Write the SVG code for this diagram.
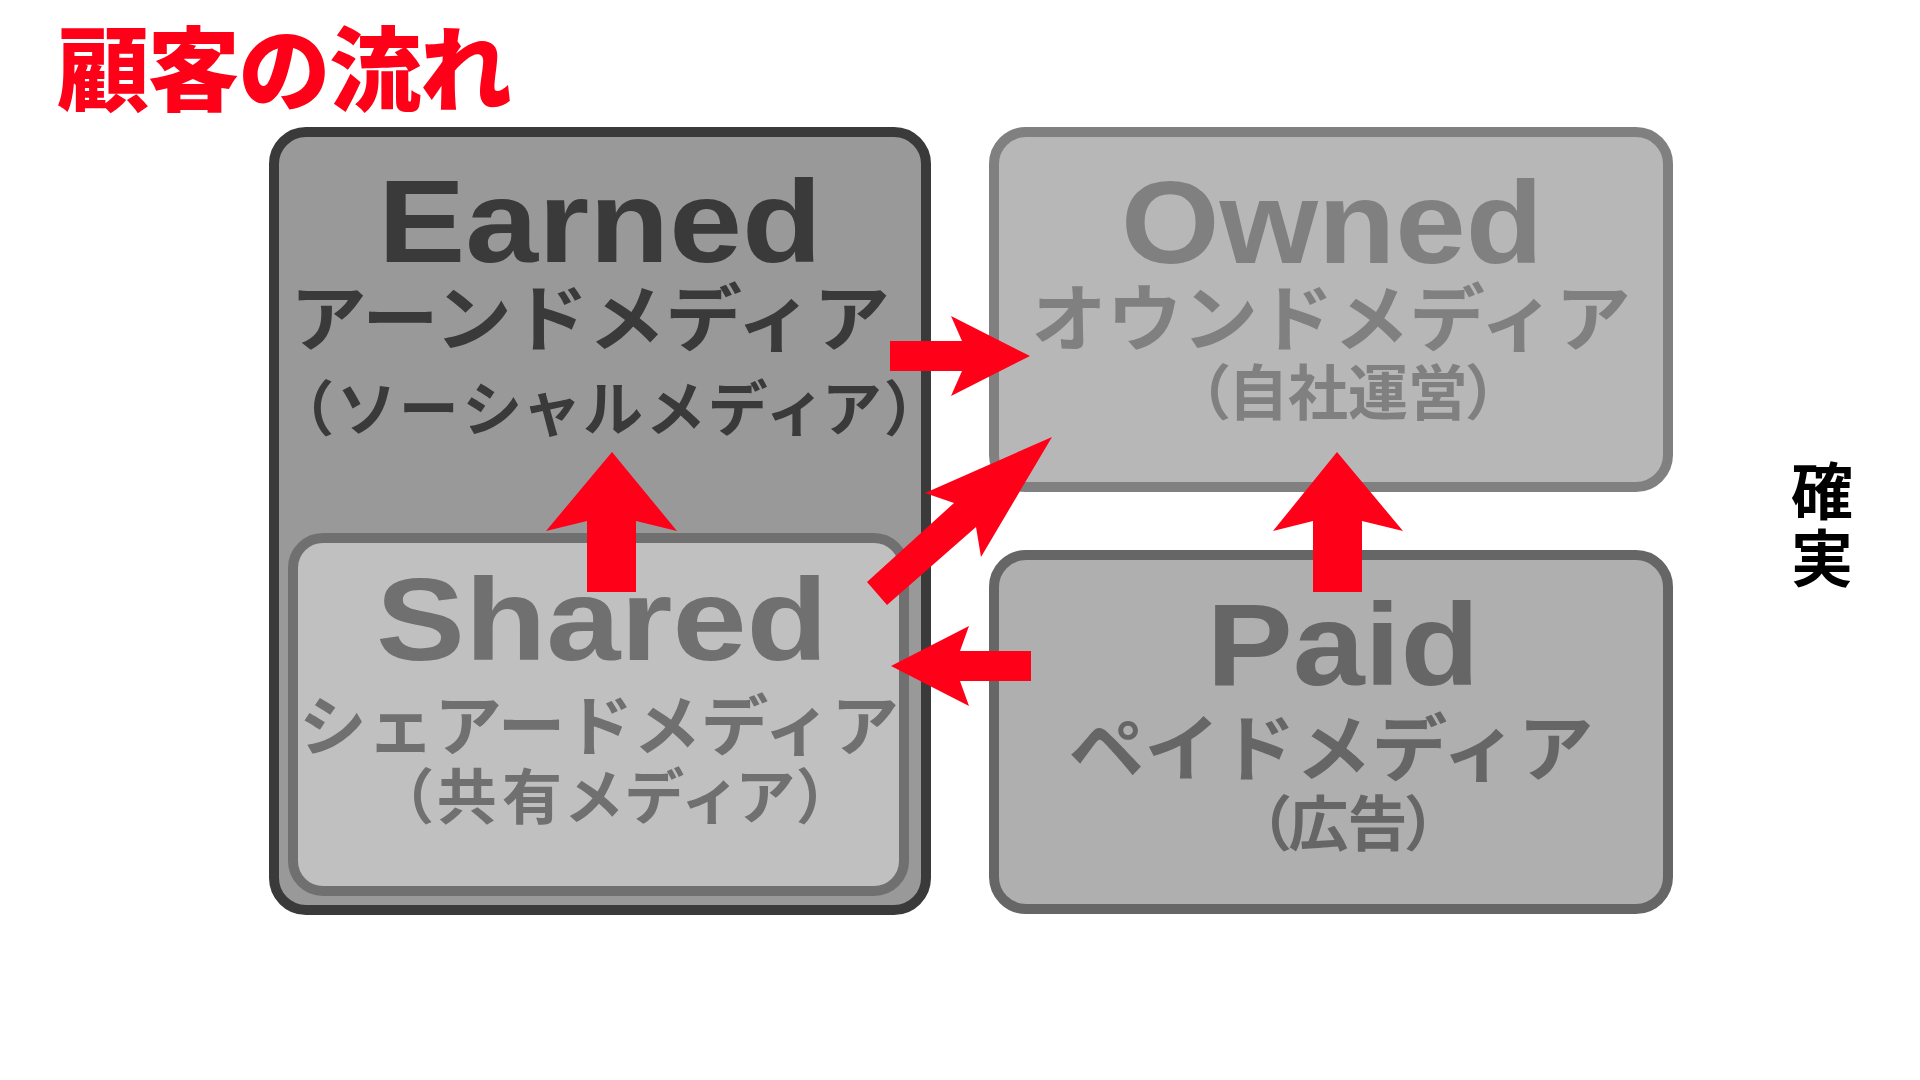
<svg xmlns="http://www.w3.org/2000/svg" width="1920" height="1080" viewBox="0 0 1920 1080">
<style>
.en{font-family:"Liberation Sans",Arial,sans-serif;font-weight:bold;font-size:116px;text-anchor:middle}
.jp{font-family:"Noto Sans CJK JP","Noto Sans CJK SC",sans-serif;font-weight:bold;text-anchor:middle}
.pl{font-feature-settings:"palt"}
.arrow{fill:#ff0019}
</style>
<rect width="1920" height="1080" fill="#ffffff"/>
<text x="57" y="104" font-family="Noto Sans CJK JP, Noto Sans CJK SC, sans-serif" font-weight="900" font-size="92" fill="#ff0019" textLength="455">顧客の流れ</text>
<g id="earned">
<rect x="274" y="132" width="652" height="778" rx="32" fill="#999999" stroke="#3a3a3a" stroke-width="10"/>
<text class="en" x="600" y="262" fill="#3a3a3a" textLength="444" lengthAdjust="spacingAndGlyphs">Earned</text>
<text class="jp" x="590" y="345" font-size="73" fill="#3a3a3a" textLength="600" lengthAdjust="spacingAndGlyphs">アーンドメディア</text>
<text class="jp pl" x="609" y="431" font-size="60" fill="#3a3a3a" textLength="615">（ソーシャルメディア）</text>
</g>
<g id="shared">
<rect x="293" y="538" width="611" height="353" rx="30" fill="#c0c0c0" stroke="#707070" stroke-width="10"/>
<text class="en" x="602" y="660" fill="#707070" textLength="452" lengthAdjust="spacingAndGlyphs">Shared</text>
<text class="jp" x="599" y="750" font-size="66" fill="#707070" textLength="600" lengthAdjust="spacingAndGlyphs">シェアードメディア</text>
<text class="jp pl" x="615" y="819" font-size="60" fill="#707070" textLength="427">（共有メディア）</text>
</g>
<g id="owned">
<rect x="994" y="132" width="674" height="355" rx="32" fill="#b7b7b7" stroke="#808080" stroke-width="10"/>
<text class="en" x="1332" y="263" fill="#808080" textLength="422" lengthAdjust="spacingAndGlyphs">Owned</text>
<text class="jp" x="1331" y="345" font-size="73" fill="#808080" textLength="600" lengthAdjust="spacingAndGlyphs">オウンドメディア</text>
<text class="jp pl" x="1348" y="415" font-size="60" fill="#808080" textLength="299">（自社運営）</text>
</g>
<g id="paid">
<rect x="994" y="555" width="674" height="354" rx="32" fill="#afafaf" stroke="#666666" stroke-width="10"/>
<text class="en" x="1343" y="685" fill="#666666" textLength="273" lengthAdjust="spacingAndGlyphs">Paid</text>
<text class="jp" x="1331" y="775" font-size="73" fill="#666666" textLength="525" lengthAdjust="spacingAndGlyphs">ペイドメディア</text>
<text class="jp pl" x="1348" y="846" font-size="60" fill="#666666" textLength="177">（広告）</text>
</g>
<g id="kakujitsu">
<text class="jp" font-size="62" fill="#000000"><tspan x="1822" y="515">確</tspan><tspan x="1822" y="582">実</tspan></text>
</g>
<g id="connectors">
<polygon class="arrow" points="890,341 962,341 951,316 1030,356 951,396 962,371 890,371"/>
<polygon class="arrow" points="1052,437 981,557 976,527 887,605 867,582 954,503 925,493"/>
<polygon class="arrow" points="891,666 969,626 960,651 1031,651 1031,681 960,681 969,706"/>
<polygon class="arrow" points="612,452 677,531 636,521 636,592 587,592 587,521 546,531"/>
<polygon class="arrow" points="1337,452 1403,531 1362,521 1362,592 1313,592 1313,521 1273,531"/>
</g>
</svg>
